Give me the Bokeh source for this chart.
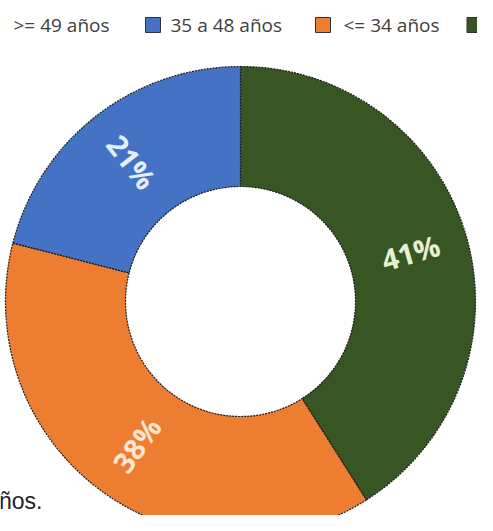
import numpy as np
from bokeh.plotting import figure
from bokeh.models import ColumnDataSource, Range1d
from bokeh.core.properties import value
from bokeh.embed import file_html
from bokeh.resources import INLINE

# ---- data ----
categories = [">= 49 años", "<= 34 años", "35 a 48 años"]
shares = [41, 38, 21]
pct_labels = ["41%", "38%", "21%"]
colors = ["#375623", "#ED7D31", "#4472C4"]
label_colors = ["#E8F0D2", "#FDE6CE", "#E4EEFF"]

legend_labels = [">= 49 años", "35 a 48 años", "<= 34 años"]
legend_marker_colors = ["#4472C4", "#ED7D31", "#375623"]

footer_text = ["años."]

# ---- layout ----
W, H = 477, 515
cx, cy = 240, 214
r_out, r_in = 235, 115
r_lab = 177

p = figure(width=W, height=H, output_backend="svg", toolbar_location=None,
           x_range=Range1d(0, W), y_range=Range1d(0, H), min_border=0)
p.axis.visible = False
p.grid.visible = False
p.outline_line_color = None
p.background_fill_color = "white"
p.border_fill_color = "white"

vals = np.array(shares, dtype=float)
frac = vals / vals.sum()
cum = np.cumsum(frac)
start = np.pi / 2 - 2 * np.pi * (cum - frac)
end = np.pi / 2 - 2 * np.pi * cum
mid = (start + end) / 2
rot = ((mid + np.pi / 2) % np.pi) - np.pi / 2

src = ColumnDataSource(dict(
    x=[cx] * len(vals), y=[cy] * len(vals), start=start, end=end,
    color=colors, cat=categories,
    lx=cx + r_lab * np.cos(mid), ly=cy + r_lab * np.sin(mid),
    rot=rot, lab=pct_labels, lcol=label_colors,
))

p.annular_wedge(x="x", y="y", inner_radius=r_in, outer_radius=r_out,
                start_angle="start", end_angle="end", direction="clock",
                fill_color="color", line_color="#1a1a1a", line_width=1.2,
                line_dash="2 1", source=src)

p.text(x="lx", y="ly", text="lab", angle="rot", text_color="lcol",
       text_font=value("Open Sans"), text_font_style="bold",
       text_font_size="29px", text_align="center", text_baseline="middle",
       source=src)

# legend (drawn manually; partly cut off as in the reference)
leg_y = 490.5
marker_x = [152.5, 322.5, 474]
text_x = [13, 170, 343]
p.rect(x=marker_x, y=[leg_y] * 3, width=15, height=15,
       fill_color=legend_marker_colors, line_color="#333333", line_width=1)
p.text(x=text_x, y=[leg_y] * 3, text=legend_labels, text_color="#404040",
       text_font=value("Open Sans"), text_font_size="19px",
       text_align="left", text_baseline="middle")

# cut-off footnote fragment at bottom left
p.text(x=[42], y=[15], text=footer_text, text_color="#222222",
       text_font=value("Liberation Sans"), text_font_size="23px",
       text_align="right", text_baseline="alphabetic")

open("out.html", "w").write(file_html(p, INLINE))
